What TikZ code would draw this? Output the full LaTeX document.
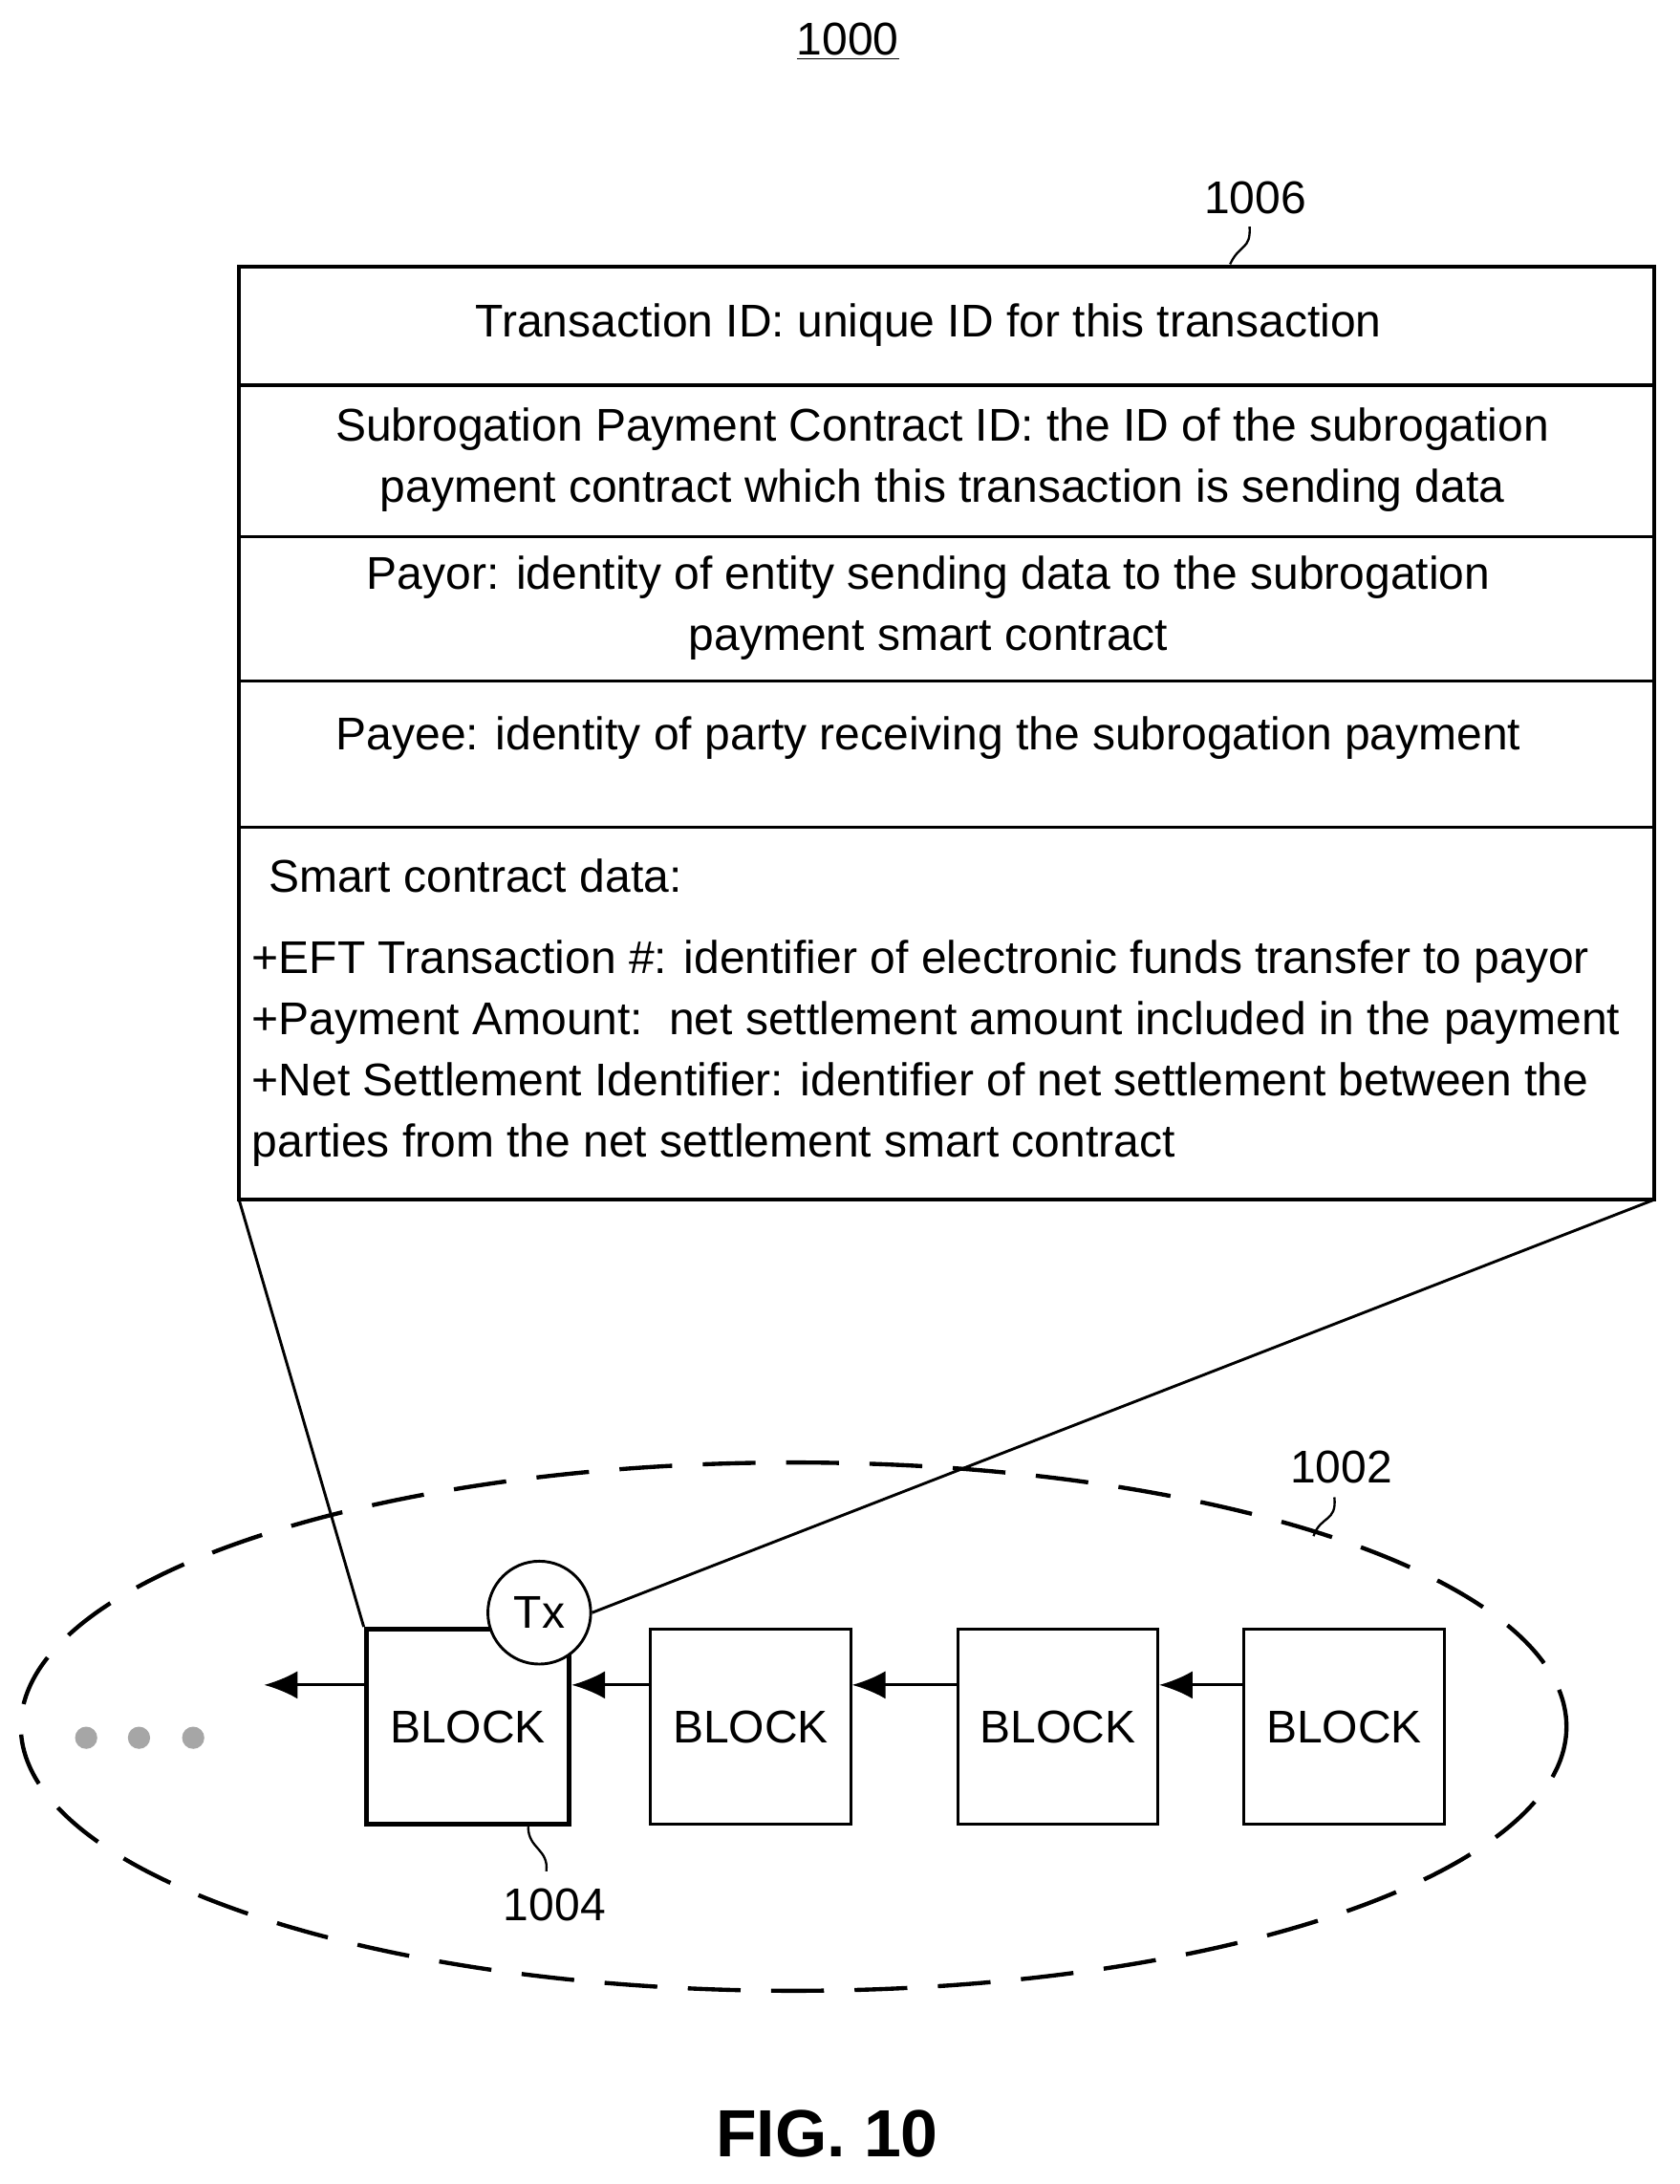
\documentclass[tikz,border=0pt]{standalone}
\usepackage{fontspec}
\usetikzlibrary{arrows.meta}
\setmainfont{Liberation Sans}
\begin{document}
\begin{tikzpicture}[x=0.5pt,y=-0.5pt,
  txt/.style={font=\fontsize{16.5}{22}\selectfont,align=center,inner sep=0},
  blk/.style={draw,line width=1pt,minimum width=72pt,minimum height=70pt,font=\fontsize{16.5}{20}\selectfont,inner sep=0},
  arr/.style={-{Latex[length=12pt,width=10pt]},line width=1pt},
  lead/.style={line width=0.8pt}]
\useasboundingbox (0,0) rectangle (1208,1571);
\node[txt] (t1000) at (610,30) {\underline{1000}};
% box
\coordinate (bl) at (172,863); \coordinate (br) at (1190,863);
\draw[line width=1.5pt] (172,192) rectangle (1190,863);
\foreach \y in {277,386,490,595} \draw[line width=1.2pt] (172,\y) -- (1190,\y);
\node[txt] (r1) at (668,234) {Transaction ID: unique ID for this transaction};
\node[txt] (r2) at (678,331) {Subrogation Payment Contract ID: the ID of the subrogation\\payment contract which this transaction is sending data};
\node[txt] (r3) at (668,437) {Payor: identity of entity sending data to the subrogation\\payment smart contract};
\node[txt] (r4) at (668,531) {Payee: identity of party receiving the subrogation payment};
\node[txt,anchor=west] (r5a) at (193,630) {Smart contract data:};
\node[txt,anchor=north west,align=left] (r5b) at (181,676) {+EFT Transaction \#: identifier of electronic funds transfer to payor\\+Payment Amount:\ \ net settlement amount included in the payment\\+Net Settlement Identifier: identifier of net settlement between the\\parties from the net settlement smart contract};
\node[txt] (l1006) at (903,142) {1006};
\coordinate (a1006) at (885,190);
\draw[lead] (a1006) .. controls (892,175) and (900,180) .. (899,163);
% ellipse
\draw[line width=1.5pt,dash pattern=on 19pt off 11pt] (571,1242) ellipse [x radius=556, y radius=190];
% blocks
\node[blk,line width=1.8pt,minimum width=73pt] (b1) at (336.5,1242) {BLOCK};
\node[blk] (b2) at (540,1242) {BLOCK};
\node[blk] (b3) at (761,1242) {BLOCK};
\node[blk] (b4) at (967,1242) {BLOCK};
\node[draw,circle,line width=1pt,minimum size=37pt,inner sep=0,fill=white,font=\fontsize{16.5}{20}\selectfont] (tx) at (388,1160) {Tx};
\coordinate (e0) at (190,1212);
\draw[arr] (b2.west |- 0,1212) -- (b1.east |- 0,1212);
\draw[arr] (b3.west |- 0,1212) -- (b2.east |- 0,1212);
\draw[arr] (b4.west |- 0,1212) -- (b3.east |- 0,1212);
\draw[arr] (b1.west |- 0,1212) -- (e0);
\draw[line width=1pt] (bl) -- (b1.north west);
\draw[line width=1pt] (br) -- (tx.east);
\foreach \x in {62,100,139} \fill[gray!70] (\x,1250) circle (4pt);
\node[txt] (l1002) at (965,1055) {1002};
\draw[lead] (945,1105) .. controls (950,1090) and (962,1095) .. (960,1077);
\node[txt] (l1004) at (399,1370) {1004};
\draw[lead] (380,1314) .. controls (380,1330) and (395,1330) .. (393,1346);
\node[font=\bfseries\fontsize{24}{28}\selectfont] (fig) at (595,1535) {FIG. 10};
\end{tikzpicture}
\end{document}
